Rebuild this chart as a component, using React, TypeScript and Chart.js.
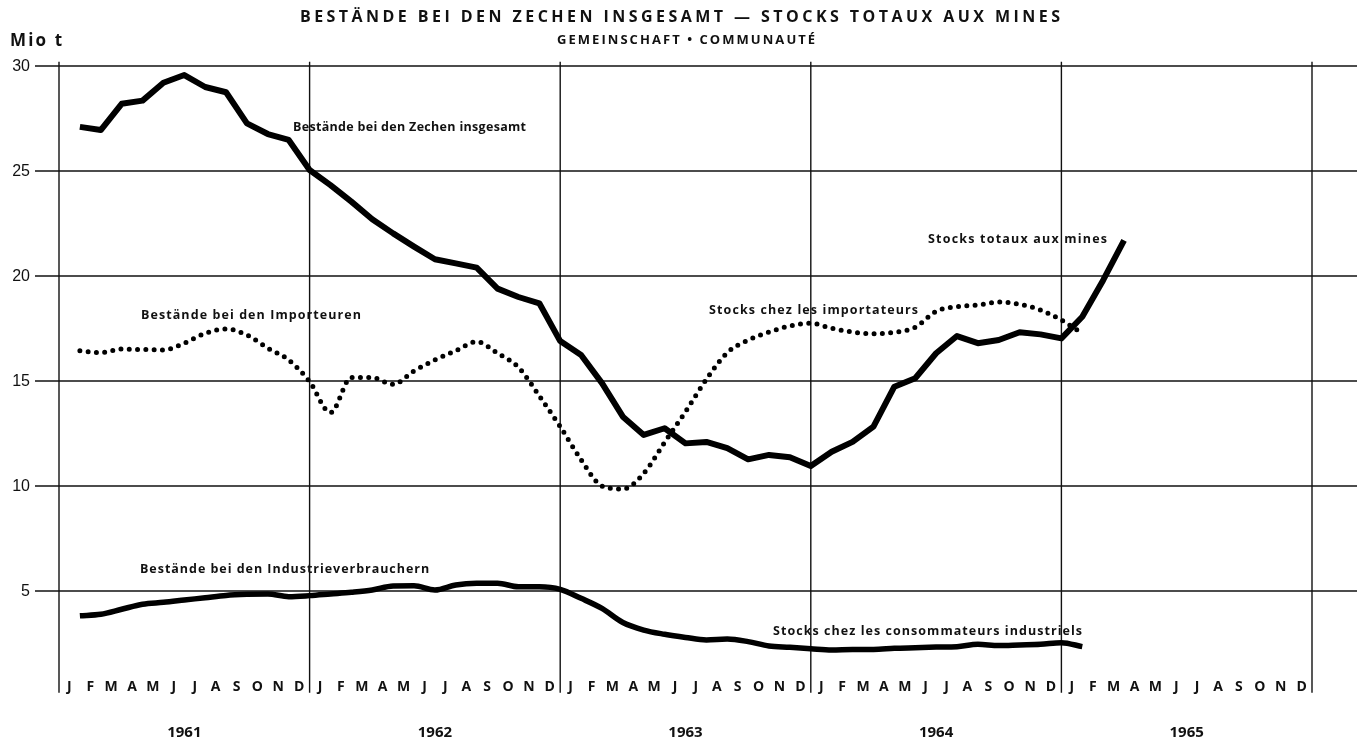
import React, { useEffect, useRef } from "react";
import { Chart, registerables } from "chart.js";

Chart.register(...registerables);

const W = 1357;
const H = 742;

const monthLabels = ["J", "F", "M", "A", "M", "J", "J", "A", "S", "O", "N", "D"];
const yearLabels = ["1961", "1962", "1963", "1964", "1965"];
const yTicks = [5, 10, 15, 20, 25, 30];

// End-of-month values, Jan 1961 onwards (Mio t)
const zechen = [
  27.1, 26.95, 28.2, 28.35, 29.2, 29.57, 29.0, 28.75, 27.27, 26.76, 26.48, 25.05,
  24.33, 23.54, 22.7, 22.03, 21.4, 20.8, 20.6, 20.4, 19.4, 19.0, 18.7, 16.9,
  16.24, 14.9, 13.3, 12.43, 12.75, 12.03, 12.1, 11.8, 11.27, 11.48, 11.37, 10.95,
  11.63, 12.1, 12.83, 14.73, 15.13, 16.32, 17.14, 16.8, 16.95, 17.32, 17.22, 17.03,
  18.06, 19.8, 21.7,
];

const importeure = [
  16.44, 16.35, 16.52, 16.5, 16.48, 16.8, 17.27, 17.48, 17.19, 16.56, 16.0, 14.97,
  13.5, 15.17, 15.16, 14.84, 15.48, 16.0, 16.44, 16.87, 16.32, 15.65, 14.29, 12.83,
  11.25, 10.0, 9.86, 10.6, 12.08, 13.54, 15.08, 16.35, 16.95, 17.33, 17.62, 17.75,
  17.51, 17.33, 17.25, 17.32, 17.56, 18.32, 18.54, 18.62, 18.76, 18.65, 18.38, 17.9,
  17.27,
];

const industrie = [
  3.82, 3.89, 4.13, 4.37, 4.46, 4.57, 4.68, 4.79, 4.84, 4.86, 4.73, 4.78,
  4.86, 4.94, 5.05, 5.24, 5.25, 5.05, 5.29, 5.37, 5.37, 5.2, 5.2, 5.08,
  4.65, 4.17, 3.5, 3.14, 2.94, 2.79, 2.67, 2.71, 2.59, 2.38, 2.32, 2.25,
  2.19, 2.22, 2.22, 2.27, 2.3, 2.33, 2.35, 2.46, 2.4, 2.43, 2.46, 2.54,
  2.35,
];

const titleText = "BESTÄNDE BEI DEN ZECHEN INSGESAMT — STOCKS TOTAUX AUX MINES";
const subtitleText = "GEMEINSCHAFT • COMMUNAUTÉ";
const unitText = "Mio t";

const seriesLabels = [
  { text: "Bestände bei den Zechen insgesamt", x0: 293, x1: 526, y: 127 },
  { text: "Bestände bei den Importeuren", x0: 141, x1: 361, y: 315 },
  { text: "Stocks chez les importateurs", x0: 709, x1: 918, y: 310 },
  { text: "Stocks totaux aux mines", x0: 928, x1: 1107, y: 239 },
  { text: "Bestände bei den Industrieverbrauchern", x0: 140, x1: 429, y: 569 },
  { text: "Stocks chez les consommateurs industriels", x0: 773, x1: 1082, y: 631 },
];

const toPoints = (arr: number[]) => arr.map((v, i) => ({ x: i + 1, y: v }));

const INK = "#111";
const LBL = "'Open Sans', Lato, 'DejaVu Sans', sans-serif";

function fitText(ctx: CanvasRenderingContext2D, text: string, x0: number, x1: number, yc: number, font: string) {
  ctx.font = font;
  (ctx as any).letterSpacing = "0px";
  const w = ctx.measureText(text).width;
  const n = Array.from(text).length;
  const ls = n > 1 ? (x1 - x0 - w) / (n - 1) : 0;
  (ctx as any).letterSpacing = ls.toFixed(2) + "px";
  ctx.textAlign = "left";
  ctx.textBaseline = "middle";
  ctx.fillText(text, x0, yc);
  (ctx as any).letterSpacing = "0px";
}

const decor = {
  id: "decor",
  beforeDatasetsDraw(chart: any) {
    const { ctx, chartArea, scales } = chart;
    const xs = scales.x;
    const ys = scales.y;
    ctx.save();
    ctx.strokeStyle = INK;
    ctx.lineWidth = 1.4;
    yTicks.forEach((v) => {
      const py = ys.getPixelForValue(v);
      ctx.beginPath();
      ctx.moveTo(35, py);
      ctx.lineTo(W, py);
      ctx.stroke();
    });
    const vBottom = ys.getPixelForValue(0.15);
    for (let i = 0; i <= yearLabels.length; i++) {
      const px = xs.getPixelForValue(i * 12);
      ctx.beginPath();
      ctx.moveTo(px, chartArea.top);
      ctx.lineTo(px, vBottom);
      ctx.stroke();
    }
    ctx.restore();
  },
  afterDatasetsDraw(chart: any) {
    const { ctx, scales } = chart;
    const xs = scales.x;
    const ys = scales.y;
    ctx.save();
    ctx.fillStyle = INK;

    // y tick labels
    ctx.font = "16px 'Liberation Sans', Arial, sans-serif";
    ctx.textAlign = "right";
    ctx.textBaseline = "middle";
    yTicks.forEach((v) => {
      ctx.fillText(String(v), 30, ys.getPixelForValue(v) + 1);
    });

    // month labels
    ctx.font = "bold 14px " + LBL;
    ctx.textAlign = "center";
    ctx.textBaseline = "middle";
    for (let yi = 0; yi < yearLabels.length; yi++) {
      monthLabels.forEach((m, mi) => {
        ctx.fillText(m, xs.getPixelForValue(yi * 12 + mi + 0.5), 687);
      });
    }
    // year labels
    ctx.font = "bold 15px " + LBL;
    yearLabels.forEach((yl, yi) => {
      ctx.fillText(yl, xs.getPixelForValue(yi * 12 + 6), 733);
    });

    // titles
    fitText(ctx, titleText, 300, 1060, 17, "bold 16px " + LBL);
    fitText(ctx, subtitleText, 557, 815, 40, "bold 13px " + LBL);
    fitText(ctx, unitText, 10, 62, 41, "bold 17px " + LBL);

    seriesLabels.forEach((s) => fitText(ctx, s.text, s.x0, s.x1, s.y, "bold 12.5px " + LBL));
    ctx.restore();
  },
};

export default function App() {
  const ref = useRef<HTMLCanvasElement | null>(null);

  useEffect(() => {
    if (!ref.current) return;
    const chart = new Chart(ref.current, {
      type: "line",
      data: {
        datasets: [
          {
            label: "Bestände bei den Importeuren",
            data: toPoints(importeure),
            borderColor: "#000",
            borderWidth: 5,
            borderDash: [0, 8.3],
            borderCapStyle: "round",
            cubicInterpolationMode: "monotone",
            pointRadius: 0,
            fill: false,
          },
          {
            label: "Bestände bei den Zechen insgesamt",
            data: toPoints(zechen),
            borderColor: "#000",
            borderWidth: 6,
            borderJoinStyle: "round",
            tension: 0,
            pointRadius: 0,
            fill: false,
          },
          {
            label: "Bestände bei den Industrieverbrauchern",
            data: toPoints(industrie),
            borderColor: "#000",
            borderWidth: 5.5,
            borderJoinStyle: "round",
            cubicInterpolationMode: "monotone",
            pointRadius: 0,
            fill: false,
          },
        ],
      } as any,
      options: {
        responsive: false,
        maintainAspectRatio: false,
        animation: false,
        layout: { padding: { left: 59, right: W - 1312, top: 61.8, bottom: H - 696 } },
        plugins: { legend: { display: false }, tooltip: { enabled: false }, title: { display: false } },
        scales: {
          x: { type: "linear", min: 0, max: 60, display: false },
          y: { type: "linear", min: 0, max: 30.2, display: false },
        },
      } as any,
      plugins: [decor],
    });
    return () => chart.destroy();
  }, []);

  return (
    <div style={{ position: "absolute", left: 0, top: 0, width: W, height: H, background: "#fff" }}>
      <canvas ref={ref} width={W} height={H} style={{ display: "block", width: W, height: H }} />
    </div>
  );
}
